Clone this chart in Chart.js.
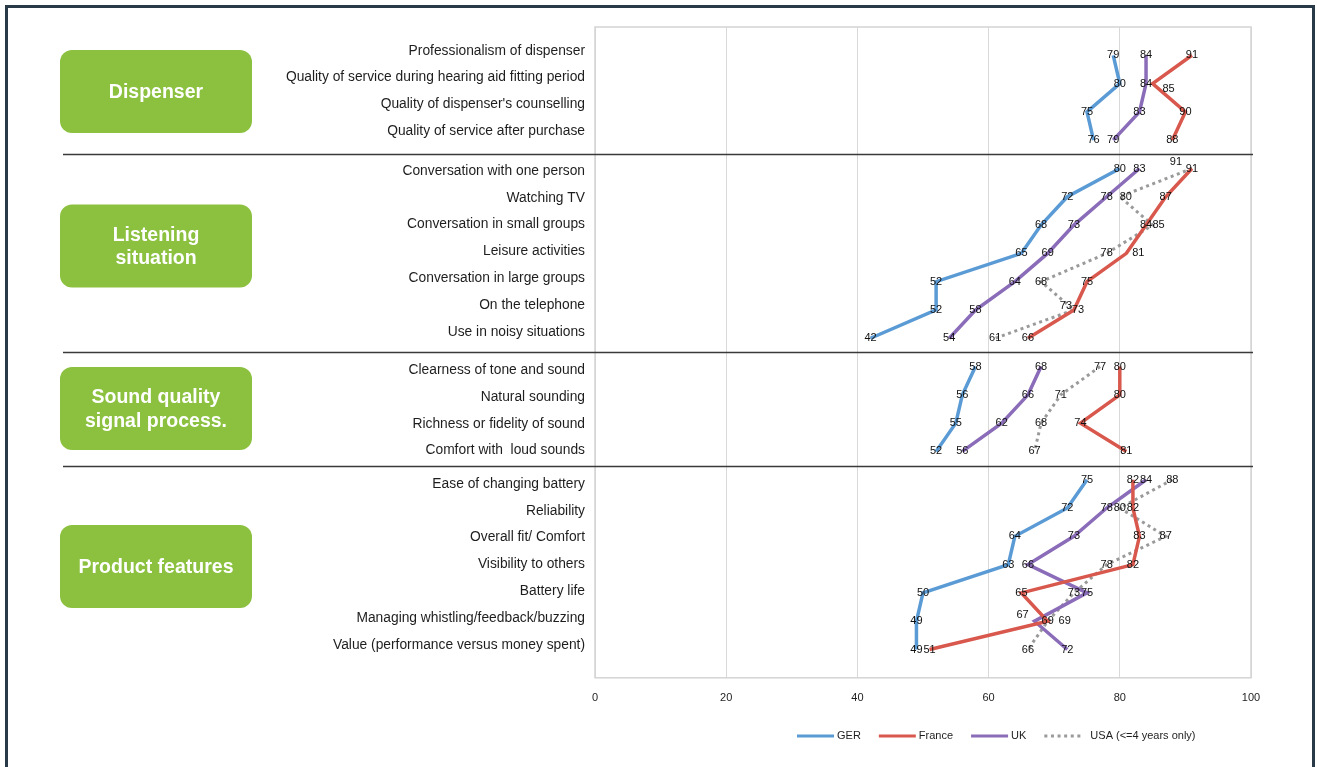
<!DOCTYPE html>
<html>
<head>
<meta charset="utf-8">
<title>Hearing aid satisfaction by country</title>
<script src="https://cdn.jsdelivr.net/npm/chart.js@4.4.1/dist/chart.umd.min.js"></script>
<style>
  html, body { margin: 0; padding: 0; background: #ffffff; }
  #wrap { width: 1317px; height: 767px; position: relative; }
</style>
</head>
<body>
<div id="wrap"><canvas id="chart" width="1317" height="767"></canvas></div>
<script>
// Rated items, top to bottom
const categories = [
  'Professionalism of dispenser',
  'Quality of service during hearing aid fitting period',
  "Quality of dispenser's counselling",
  'Quality of service after purchase',
  'Conversation with one person',
  'Watching TV',
  'Conversation in small groups',
  'Leisure activities',
  'Conversation in large groups',
  'On the telephone',
  'Use in noisy situations',
  'Clearness of tone and sound',
  'Natural sounding',
  'Richness or fidelity of sound',
  'Comfort with  loud sounds',
  'Ease of changing battery',
  'Reliability',
  'Overall fit/ Comfort',
  'Visibility to others',
  'Battery life',
  'Managing whistling/feedback/buzzing',
  'Value (performance versus money spent)'
];

// Groups of items and their headings
const sectionTitles = [['Dispenser'], ['Listening', 'situation'], ['Sound quality', 'signal process.'], ['Product features']];
const sectionSizes = [4, 7, 4, 7];

// Satisfaction scores (%)
const seriesNames = ['GER', 'France', 'UK', 'USA (<=4 years only)'];
const gerValues    = [79, 80, 75, 76, 80, 72, 68, 65, 52, 52, 42, 58, 56, 55, 52, 75, 72, 64, 63, 50, 49, 49];
const franceValues = [91, 85, 90, 88, 91, 87, 84, 81, 75, 73, 66, 80, 80, 74, 81, 82, 82, 83, 82, 65, 69, 51];
const ukValues     = [84, 84, 83, 79, 83, 78, 73, 69, 64, 58, 54, 68, 66, 62, 56, 84, 78, 73, 66, 75, 67, 72];
const usaValues    = [null, null, null, null, 91, 80, 85, 78, 68, 73, 61, 77, 71, 68, 67, 88, 80, 87, 78, 73, 69, 66];

const FONT = '"Liberation Sans", Arial, Helvetica, sans-serif';

// Section boundaries (row index where each section starts)
const sectionStarts = [];
(function () { let s = 0; sectionSizes.forEach(n => { sectionStarts.push(s); s += n; }); })();

// Turn a value list into {x, y} points; a gap point breaks the line between sections
function toPoints(values) {
  const pts = [];
  values.forEach((v, i) => {
    if (i > 0 && sectionStarts.includes(i)) pts.push({ x: null, y: i + 0.5 });
    pts.push({ x: v, y: i + 1 });
  });
  return pts;
}

const seriesStyle = [
  { color: '#5b9bd5', dash: [] },
  { color: '#d9584d', dash: [] },
  { color: '#8a6cb9', dash: [] },
  { color: '#9a9a9a', dash: [3, 3.6] }
];
const seriesValues = [gerValues, franceValues, ukValues, usaValues];

// Small nudges for value labels that would otherwise collide: "dataset:row" -> [dx, dy]
const labelNudge = {
  '3:4': [-16, -7], '1:1': [16, 5], '1:7': [12, 0], '2:20': [-12, -6],
  '3:20': [17, 0], '3:9': [-8, -4], '1:9': [4, 0], '3:5': [6, 0], '3:6': [6, 0]
};

const sectionLabelShift = [-6.7, -1.9, 1.5, -0.2];
const sectionBoxShift = [-6.2, -7.4, -0.5, 1.8];

const decorPlugin = {
  id: 'decor',
  beforeDraw(chart) {
    const ctx = chart.ctx;
    ctx.save();
    ctx.fillStyle = '#ffffff';
    ctx.fillRect(0, 0, chart.width, chart.height);
    // outer frame (open at the bottom)
    ctx.fillStyle = '#283a47';
    ctx.fillRect(5, 5, 1310, 3);
    ctx.fillRect(5, 5, 3, chart.height - 5);
    ctx.fillRect(1312, 5, 3, chart.height - 5);
    ctx.restore();
  },
  beforeDatasetsDraw(chart) {
    const ctx = chart.ctx;
    const a = chart.chartArea;
    const y = chart.scales.y;
    ctx.save();
    ctx.strokeStyle = '#d4d4d4';
    ctx.lineWidth = 1.5;
    ctx.strokeRect(a.left, a.top, a.right - a.left, a.bottom - a.top);
    // section dividers
    ctx.strokeStyle = '#3a3a3a';
    ctx.lineWidth = 1.6;
    sectionStarts.slice(1).forEach(s => {
      const py = Math.round(y.getPixelForValue(s + 0.5)) + 0.5;
      ctx.beginPath();
      ctx.moveTo(63, py);
      ctx.lineTo(a.right + 2, py);
      ctx.stroke();
    });
    ctx.restore();
  },
  afterDatasetsDraw(chart) {
    const ctx = chart.ctx;
    ctx.save();
    ctx.font = '11px ' + FONT;
    ctx.fillStyle = '#111111';
    ctx.textAlign = 'center';
    ctx.textBaseline = 'middle';
    chart.data.datasets.forEach((ds, di) => {
      const meta = chart.getDatasetMeta(di);
      const values = seriesValues[di];
      meta.data.forEach((pt, k) => {
        const raw = ds.data[k];
        if (raw.x === null || raw.x === undefined) return;
        const r = raw.y - 1;
        const n = labelNudge[di + ':' + r] || [0, 0];
        ctx.fillText(String(values[r]), pt.x + n[0], pt.y + n[1]);
      });
    });
    ctx.restore();
  },
  afterDraw(chart) {
    const ctx = chart.ctx;
    const y = chart.scales.y;
    ctx.save();
    // item labels, set as one text block per section
    const lineGap = 26.8;
    ctx.textBaseline = 'middle';
    sectionStarts.forEach((start, s) => {
      const n = sectionSizes[s];
      const c = (y.getPixelForValue(start + 1) + y.getPixelForValue(start + n)) / 2;
      const mid = c + sectionLabelShift[s];
      ctx.font = '13.8px ' + FONT;
      ctx.fillStyle = '#1e1e1e';
      ctx.textAlign = 'right';
      for (let k = 0; k < n; k++) {
        ctx.fillText(categories[start + k], 585, mid + (k - (n - 1) / 2) * lineGap);
      }
      // green heading box
      const bc = c + sectionBoxShift[s];
      const bx = 60, bw = 192, bh = 83;
      ctx.fillStyle = '#8bc13f';
      ctx.beginPath();
      ctx.roundRect(bx, bc - bh / 2, bw, bh, 12);
      ctx.fill();
      ctx.fillStyle = '#ffffff';
      ctx.font = 'bold 19.5px ' + FONT;
      ctx.textAlign = 'center';
      const lines = sectionTitles[s];
      lines.forEach((t, li) => {
        ctx.fillText(t, bx + bw / 2, bc + (li - (lines.length - 1) / 2) * 23.5 + 1);
      });
    });
    // legend
    ctx.font = '11px ' + FONT;
    ctx.textAlign = 'left';
    ctx.textBaseline = 'middle';
    const ly = 736;
    let lx = 797;
    chart.data.datasets.forEach((ds, di) => {
      ctx.strokeStyle = ds.borderColor;
      ctx.lineWidth = 3;
      ctx.setLineDash(ds.borderDash || []);
      ctx.beginPath();
      ctx.moveTo(lx, ly);
      ctx.lineTo(lx + 37, ly);
      ctx.stroke();
      ctx.setLineDash([]);
      ctx.fillStyle = '#1e1e1e';
      const tx = lx + 40 + (di === 3 ? 6 : 0);
      ctx.fillText(ds.label, tx, ly);
      lx = tx + ctx.measureText(ds.label).width + 18;
    });
    ctx.restore();
  }
};

const datasets = seriesNames.map((name, i) => ({
  label: name,
  data: toPoints(seriesValues[i]),
  borderColor: seriesStyle[i].color,
  backgroundColor: seriesStyle[i].color,
  borderWidth: i === 3 ? 3 : 3.5,
  borderDash: seriesStyle[i].dash,
  pointRadius: 0,
  tension: 0,
  spanGaps: false,
  fill: false
}));

new Chart(document.getElementById('chart'), {
  type: 'line',
  data: { datasets },
  options: {
    responsive: false,
    devicePixelRatio: 1,
    animation: false,
    parsing: { xAxisKey: 'x', yAxisKey: 'y' },
    layout: { padding: { left: 595, right: 66, top: 27, bottom: 48 } },
    plugins: { legend: { display: false }, tooltip: { enabled: false } },
    scales: {
      x: {
        type: 'linear',
        min: 0,
        max: 100,
        ticks: { stepSize: 20, padding: 14, color: '#1e1e1e', font: { size: 11, family: FONT } },
        grid: { color: '#d9d9d9', drawTicks: false },
        border: { display: false }
      },
      y: {
        type: 'linear',
        reverse: true,
        min: 0,
        max: 23,
        display: false
      }
    }
  },
  plugins: [decorPlugin]
});
</script>
</body>
</html>
